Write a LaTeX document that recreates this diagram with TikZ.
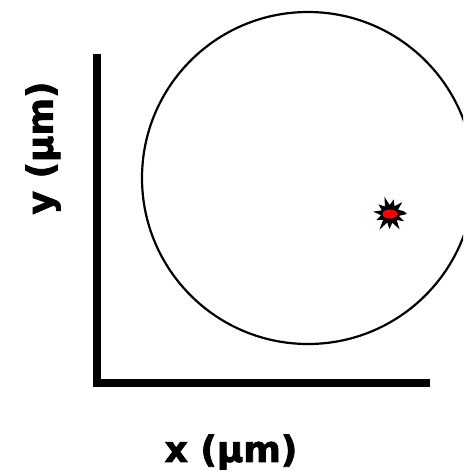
\documentclass[tikz,border=0pt]{standalone}
\usepackage{fontspec}
\setmainfont[BoldFeatures={FakeBold=2.2}]{DejaVu Sans}
\begin{document}
\begin{tikzpicture}[x=1pt,y=-1pt,
  axis/.style={line width=8pt},
  lbl/.style={font=\fontsize{36}{40}\selectfont\bfseries, inner sep=0pt}]
\useasboundingbox (0,0) rectangle (463,473);
\begin{scope}
\clip (0,0) rectangle (463,473);
\draw[line width=2.2pt] (308,178) circle[radius=166];
\end{scope}
\coordinate (o) at (97,383);
\coordinate (ytop) at (97,54);
\coordinate (xend) at (430,383);
\draw[axis] (ytop) -- (97,387) ;
\draw[axis] (93,383) -- (xend);
\node[lbl] (xl) at (231,452) {x (µm)};
\node[lbl, rotate=90] (yl) at (43,148) {y (µm)};
% starburst
\coordinate (sc) at (390,214);
\fill[black] ([shift={(0:17)}]sc)
  \foreach \a/\r in {12/9,27/16,42/9,58/18,75/9,92/15,108/9,124/19,140/9,156/15,172/9,188/17,204/9,220/15,236/9,252/18,268/9,284/15,300/9,316/17,332/9,348/14} { -- ([shift={(\a:\r)}]sc) } -- cycle;
\fill[red] (sc) ellipse[x radius=7.5, y radius=4.5];
\end{tikzpicture}
\end{document}
